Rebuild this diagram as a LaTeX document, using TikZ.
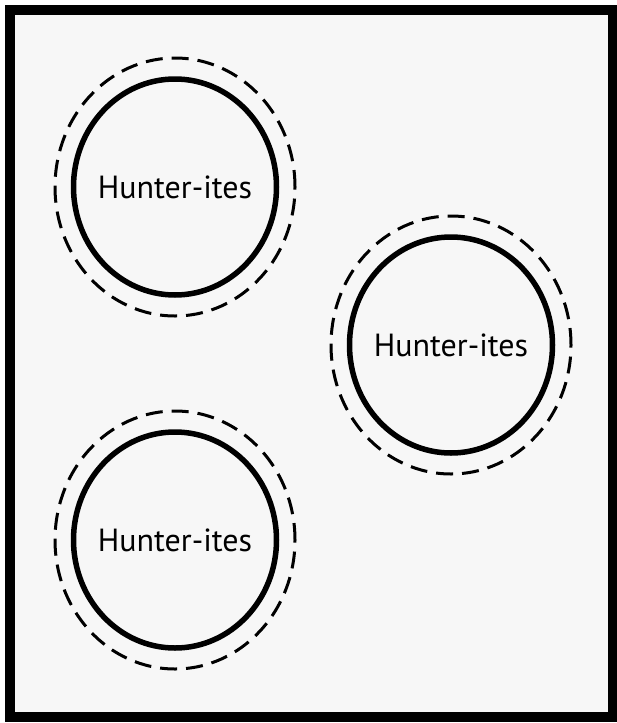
\documentclass[tikz,border=0pt]{standalone}
\usepackage{fontspec}
\setmainfont{PT Sans}
\usetikzlibrary{shapes.geometric}
\begin{document}
\begin{tikzpicture}[x=1pt, y=-1pt,
  group/.style={ellipse, draw, line width=5.5pt, minimum width=203pt,
    minimum height=216pt, inner sep=0pt},
  halo/.style={ellipse, draw, line width=3pt, dash pattern=on 17pt off 9pt,
    minimum width=240pt, minimum height=258pt, inner sep=0pt},
  tag/.style={font=\fontsize{32}{36}\selectfont, inner sep=0pt}]
  \useasboundingbox (0,0) rectangle (616,723);
  \draw[line width=10pt, fill=black!3] (10,10) rectangle (613,717);
  \foreach \id/\x/\y in {a/175/187, b/451/345, c/175/540} {
    \node[halo] (halo-\id) at (\x,\y) {};
    \node[group] (group-\id) at (\x,\y) {};
    \node[tag] (tag-\id) at (group-\id) {Hunter-ites};
  }
\end{tikzpicture}
\end{document}
